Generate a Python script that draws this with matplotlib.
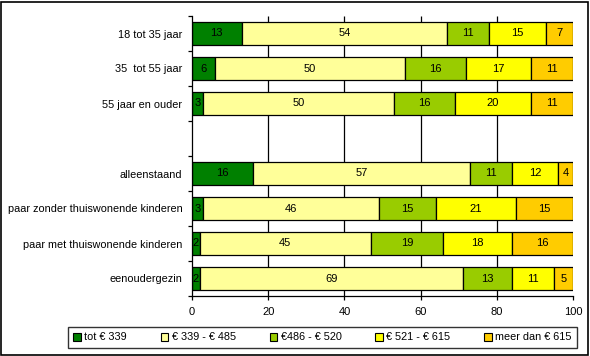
import numpy as np
import matplotlib
matplotlib.use('Agg')
import matplotlib.pyplot as plt
from matplotlib.patches import Rectangle, Patch

plt.rcParams['font.family'] = ['Liberation Sans', 'DejaVu Sans']

categories = ['18 tot 35 jaar', '35  tot 55 jaar', '55 jaar en ouder', '',
              'alleenstaand', 'paar zonder thuiswonende kinderen',
              'paar met thuiswonende kinderen', 'eenoudergezin']
tot_339 = [13, 6, 3, 0, 16, 3, 2, 2]
van_339_485 = [54, 50, 50, 0, 57, 46, 45, 69]
van_486_520 = [11, 16, 16, 0, 11, 15, 19, 13]
van_521_615 = [15, 17, 20, 0, 12, 21, 18, 11]
meer_615 = [7, 11, 11, 0, 4, 15, 16, 5]

series_labels = ['tot € 339', '€ 339 - € 485', '€486 - € 520', '€ 521 - € 615', 'meer dan € 615']
series = [tot_339, van_339_485, van_486_520, van_521_615, meer_615]
colors = ['#008000', '#FFFF99', '#99CC00', '#FFFF00', '#FFCC00']
xticks = [0, 20, 40, 60, 80, 100]

W, H = 590, 356
fig = plt.figure(figsize=(W / 100, H / 100), dpi=100)
ax = fig.add_axes([192 / W, (H - 296) / H, (573 - 192) / W, (296 - 16) / H])

y = np.arange(len(categories))
left = np.zeros(len(categories))
for vals, col in zip(series, colors):
    vals = np.array(vals, dtype=float)
    m = vals > 0
    ax.barh(y[m], vals[m], left=left[m], height=0.66, color=col,
            edgecolor='black', linewidth=0.9, zorder=2)
    for yi, (l, v) in enumerate(zip(left, vals)):
        if v > 0:
            ax.text(l + v / 2, yi, f'{int(v)}', ha='center', va='center',
                    fontsize=8, zorder=3)
    left += vals

ax.set_xlim(0, 100)
ax.set_ylim(len(categories) - 0.5, -0.5)
ax.vlines([20, 40, 60, 80], -0.5, len(categories) - 0.5, color='black',
          linewidth=0.9, zorder=0)

ax.set_xticks(xticks)
ax.set_xticklabels([str(t) for t in xticks], fontsize=8)
ax.set_yticks(np.arange(-0.5, len(categories), 1))
ax.set_yticklabels([])
ax.set_yticks(y, minor=True)
ax.set_yticklabels(categories, minor=True, fontsize=7.8)
ax.tick_params(axis='y', which='major', length=3, width=0.9, direction='out')
ax.tick_params(axis='y', which='minor', length=0, pad=7)
ax.tick_params(axis='x', length=3, width=0.9, direction='out', pad=5)

for s in ['top', 'right']:
    ax.spines[s].set_visible(False)
for s in ['left', 'bottom']:
    ax.spines[s].set_linewidth(0.9)

handles = [Patch(facecolor=c, edgecolor='black', linewidth=0.8) for c in colors]
leg = fig.legend(handles, series_labels, loc='center',
                 bbox_to_anchor=(68 / W, (H - 349) / H, (577 - 68) / W, 23 / H),
                 mode='expand', ncol=5, frameon=True, fancybox=False,
                 edgecolor='black', fontsize=7.8, handlelength=0.7,
                 handleheight=0.7, handletextpad=0.3, borderaxespad=0,
                 borderpad=0.5, columnspacing=1.0)
leg.get_frame().set_linewidth(1.0)

fig.patches.append(Rectangle((1 / W, 1 / H), (W - 3) / W, (H - 3) / H,
                             transform=fig.transFigure, fill=False,
                             edgecolor='black', linewidth=1.2))

fig.savefig('out.png', dpi=100)
